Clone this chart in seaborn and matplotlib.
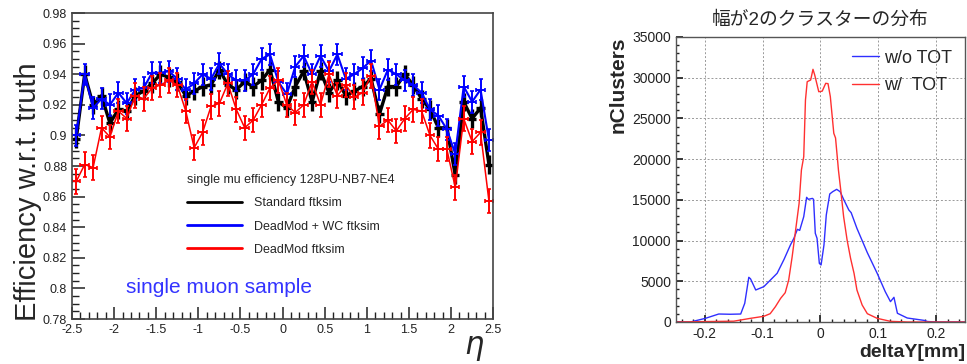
import numpy as np
import matplotlib
matplotlib.use("Agg")
import matplotlib.pyplot as plt
import seaborn as sns
from matplotlib.ticker import MultipleLocator, FormatStrFormatter

# ---- left panel: efficiency vs eta (50 bins of 0.1) ----
eta = [round(-2.45 + 0.1 * i, 2) for i in range(50)]

eff_standard = [0.898, 0.940, 0.920, 0.926, 0.908, 0.917, 0.916, 0.926, 0.929, 0.934,
                0.940, 0.938, 0.935, 0.926, 0.929, 0.932, 0.933, 0.943, 0.933, 0.930,
                0.935, 0.932, 0.936, 0.943, 0.922, 0.918, 0.932, 0.942, 0.922, 0.942,
                0.928, 0.936, 0.926, 0.929, 0.932, 0.937, 0.914, 0.932, 0.932, 0.940,
                0.933, 0.924, 0.917, 0.905, 0.905, 0.874, 0.922, 0.911, 0.918, 0.881]
eff_deadmod_wc = [0.900, 0.940, 0.918, 0.924, 0.920, 0.928, 0.921, 0.930, 0.931, 0.941,
                  0.941, 0.942, 0.937, 0.930, 0.934, 0.940, 0.937, 0.947, 0.940, 0.936,
                  0.936, 0.940, 0.950, 0.953, 0.935, 0.927, 0.945, 0.952, 0.940, 0.952,
                  0.942, 0.953, 0.937, 0.940, 0.944, 0.949, 0.930, 0.943, 0.940, 0.936,
                  0.933, 0.928, 0.917, 0.913, 0.904, 0.888, 0.932, 0.922, 0.930, 0.897]
eff_deadmod = [0.870, 0.881, 0.879, 0.905, 0.899, 0.916, 0.911, 0.926, 0.924, 0.931,
               0.933, 0.936, 0.933, 0.916, 0.892, 0.902, 0.919, 0.921, 0.934, 0.917,
               0.905, 0.910, 0.920, 0.931, 0.936, 0.920, 0.915, 0.920, 0.935, 0.920,
               0.940, 0.926, 0.933, 0.925, 0.928, 0.939, 0.906, 0.910, 0.903, 0.911,
               0.917, 0.916, 0.900, 0.891, 0.891, 0.866, 0.911, 0.896, 0.902, 0.857]
err_standard = 0.006
err_deadmod_wc = 0.007
err_deadmod = 0.008
eta_halfwidth = 0.05

series_labels = ["Standard ftksim", "DeadMod + WC ftksim", "DeadMod ftksim"]
legend_title = "single mu efficiency 128PU-NB7-NE4"

# ---- right panel: deltaY distribution ----
dy_wo = [-0.25, -0.225, -0.199, -0.176, -0.156, -0.138, -0.131, -0.124, -0.121, -0.112,
         -0.098, -0.075, -0.063, -0.052, -0.046, -0.040, -0.036, -0.029, -0.024, -0.021,
         -0.014, -0.012, -0.009, -0.006, -0.002, 0.001, 0.006, 0.010, 0.016, 0.021,
         0.028, 0.034, 0.040, 0.049, 0.053, 0.063, 0.081, 0.098, 0.112, 0.121,
         0.127, 0.133, 0.150, 0.179, 0.185, 0.200, 0.25]
n_wo = [0, 0, 450, 980, 950, 980, 2300, 5490, 5300, 3930,
        4340, 5980, 7700, 9460, 10280, 11380, 11250, 12930, 15310, 15060,
        15180, 15060, 10890, 10280, 7200, 7000, 9460, 13140, 15720, 16000,
        16290, 16000, 15060, 13750, 13430, 11500, 8510, 5980, 3720, 2500,
        3030, 1070, 490, 200, 60, 0, 0]

dy_w = [-0.25, -0.15, -0.121, -0.098, -0.087, -0.078, -0.069, -0.061, -0.055, -0.049,
        -0.043, -0.037, -0.033, -0.029, -0.026, -0.023, -0.017, -0.013, -0.010, -0.003,
        0.003, 0.009, 0.013, 0.017, 0.023, 0.026, 0.030, 0.031, 0.035, 0.040,
        0.046, 0.052, 0.058, 0.063, 0.072, 0.081, 0.098, 0.121, 0.15, 0.25]
n_w = [0, 100, 450, 700, 1020, 1880, 2900, 3600, 5160, 8020,
       11300, 14570, 18670, 20300, 27260, 29510, 29720, 31030, 30330, 28280,
       28350, 29310, 29270, 27670, 23170, 22600, 19490, 18670, 16210, 12930,
       10070, 7820, 5980, 3930, 2090, 1020, 450, 80, 0, 0]

sns.set_theme(style="ticks")
plt.rcParams["font.family"] = ["Liberation Sans", "Noto Sans CJK JP", "DejaVu Sans"]

fig = plt.figure(figsize=(9.67, 3.64), dpi=100)

# left
ax = fig.add_axes([0.0745, 0.1236, 0.4355, 0.8404])
styles = [
    (eff_standard, err_standard, "black", 2.4, 0),
    (eff_deadmod_wc, err_deadmod_wc, "#0000ff", 1.5, 1.5),
    (eff_deadmod, err_deadmod, "#ff0000", 1.1, 1.5),
]
for (vals, err, col, lw, cap), lab in zip(styles, series_labels):
    sns.lineplot(x=eta, y=vals, color=col, lw=lw, ax=ax, label=lab, legend=False)
    ax.errorbar(eta, vals, xerr=eta_halfwidth, yerr=err, fmt="none", ecolor=col,
                elinewidth=lw if lw > 2 else 1.4, capsize=cap, capthick=1.2)

ax.set_xlim(-2.5, 2.5)
ax.set_ylim(0.78, 0.98)
ax.xaxis.set_major_locator(MultipleLocator(0.5))
ax.xaxis.set_minor_locator(MultipleLocator(0.1))
ax.yaxis.set_major_locator(MultipleLocator(0.02))
ax.yaxis.set_minor_locator(MultipleLocator(0.005))
ax.xaxis.set_major_formatter(FormatStrFormatter("%g"))
ax.yaxis.set_major_formatter(FormatStrFormatter("%g"))
ax.tick_params(which="both", direction="in", labelsize=9, colors="#222222")
ax.tick_params(which="major", length=9, width=1.1)
ax.tick_params(which="minor", length=5, width=1)
for s in ax.spines.values():
    s.set_color("#444444")
    s.set_linewidth(1.2)
ax.set_xlabel("")
ax.set_ylabel("")

handles, _ = ax.get_legend_handles_labels()
leg = ax.legend(handles, series_labels, title=legend_title, loc="upper left",
                bbox_to_anchor=(0.26, 0.49), frameon=False, fontsize=9,
                title_fontsize=9, handlelength=4.4, handletextpad=1.0,
                labelspacing=0.9, alignment="left", borderaxespad=0)
for ln in leg.get_lines():
    ln.set_linewidth(2)

ax.text(0.128, 0.085, "single muon sample", transform=ax.transAxes, color="#3333ff",
        fontsize=15)
fig.text(0.029, 0.473, "Efficiency w.r.t. truth", rotation=90, ha="center",
         va="center", fontsize=21)
fig.text(0.49, 0.045, r"$\eta$", fontsize=22, ha="center", va="center")

# right
ax2 = fig.add_axes([0.699, 0.1154, 0.299, 0.7830])
sns.lineplot(x=dy_wo, y=n_wo, color="#2f2fff", lw=1, ax=ax2, label="w/o TOT")
sns.lineplot(x=dy_w, y=n_w, color="#ff3030", lw=1, ax=ax2, label="w/  TOT")
ax2.set_xlim(-0.25, 0.25)
ax2.set_ylim(0, 35000)
ax2.xaxis.set_major_locator(MultipleLocator(0.1))
ax2.xaxis.set_minor_locator(MultipleLocator(0.02))
ax2.yaxis.set_major_locator(MultipleLocator(5000))
ax2.yaxis.set_minor_locator(MultipleLocator(1000))
ax2.xaxis.set_major_formatter(FormatStrFormatter("%g"))
ax2.grid(True, which="major", ls=(0, (2, 2)), color="#999999", lw=0.7)
ax2.tick_params(which="both", direction="in", labelsize=10, colors="#222222")
ax2.tick_params(which="major", length=5)
ax2.tick_params(which="minor", length=2.5)
for s in ax2.spines.values():
    s.set_color("#555555")
    s.set_linewidth(1)
ax2.set_title("幅が2のクラスターの分布", fontsize=13.5, pad=9)
ax2.set_ylabel("nClusters", fontsize=15, fontweight="bold", loc="top", labelpad=3)
ax2.set_xlabel("deltaY[mm]", fontsize=14, fontweight="bold", loc="right", labelpad=2)
ax2.legend(loc="upper right", frameon=False, fontsize=13, handlelength=1.5,
           handletextpad=0.3, labelspacing=0.6, borderaxespad=0.3)

fig.savefig("out.png", dpi=100)
